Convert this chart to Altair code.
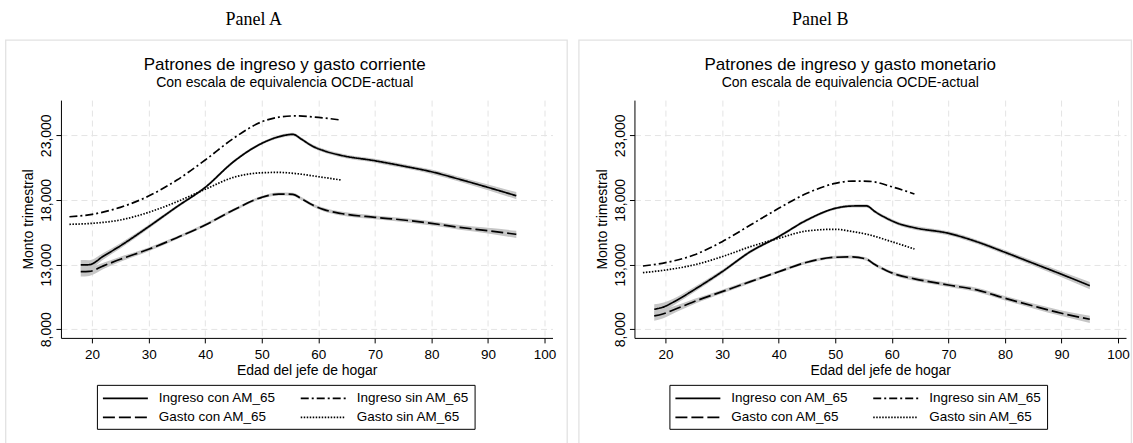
import altair as alt
import pandas as pd

SANS = "Liberation Sans"
SERIF = "Liberation Serif"

# legend fills column by column: first column holds the "con" series
SERIES = ["Ingreso con AM_65", "Gasto con AM_65", "Ingreso sin AM_65", "Gasto sin AM_65"]
DASHES = [[1, 0], [12, 4], [8, 3, 2, 3], [1.5, 1.5]]

X_TICKS = [20, 30, 40, 50, 60, 70, 80, 90, 100]
Y_TICKS = [8000, 13000, 18000, 23000]
X_DOMAIN = [14.5, 101.4]
Y_DOMAIN = [7330, 25720]

ages_con = [18, 19.5, 22, 25, 30, 35, 40, 45, 50, 53, 55.5, 57, 59, 61, 64, 70, 75, 80, 85, 90, 95]
ages_sin = [16, 20, 25, 30, 35, 40, 45, 50, 53, 56, 60, 64]

# Panel A: gasto corriente
a_ingreso_con = [12970, 12990, 13650, 14450, 15930, 17475, 18970, 20950, 22374, 22884, 23070,
                 22700, 22150, 21800, 21450, 21030, 20620, 20180, 19590, 18970, 18325]
a_gasto_con = [12450, 12470, 12900, 13410, 14180, 15080, 16060, 17220, 18200, 18455, 18430,
               18100, 17600, 17250, 16950, 16655, 16450, 16190, 15880, 15620, 15340]
a_ingreso_sin = [16700, 16888, 17428, 18300, 19538, 21084, 22760, 24044, 24400, 24500, 24380, 24175]
a_gasto_sin = [16115, 16190, 16450, 17040, 17860, 18820, 19745, 20100, 20130, 20040, 19800, 19540]

# Panel B: gasto monetario
b_ingreso_con = [9545, 9700, 10250, 11040, 12450, 14000, 15160, 16450, 17350, 17530, 17540,
                 17100, 16600, 16200, 15850, 15420, 14770, 13950, 13100, 12250, 11370]
b_gasto_con = [9030, 9180, 9600, 10130, 10905, 11680, 12450, 13180, 13565, 13590, 13420,
               13000, 12550, 12200, 11900, 11420, 11040, 10395, 9800, 9235, 8770]
b_ingreso_sin = [12890, 13150, 13740, 14770, 16060, 17350, 18510, 19280, 19460, 19440, 19020, 18455]
b_gasto_sin = [12375, 12580, 12970, 13610, 14385, 15030, 15600, 15730, 15560, 15300, 14770, 14205]

# half-width of the confidence band around the "con AM_65" curves
band_half = [380, 350, 250, 200, 150, 120, 110, 110, 110, 120, 130,
             130, 130, 140, 150, 150, 160, 170, 190, 220, 280]

panel_labels = ["Panel A", "Panel B"]
titles = ["Patrones de ingreso y gasto corriente", "Patrones de ingreso y gasto monetario"]
subtitle = "Con escala de equivalencia OCDE-actual"
x_title = "Edad del jefe de hogar"
y_title = "Monto trimestral"


def make_panel(label, title, ing_con, gas_con, ing_sin, gas_sin, bounds, box, label_x, title_x, legend_x):
    rows = []
    for s, ages, vals in [("Ingreso con AM_65", ages_con, ing_con), ("Ingreso sin AM_65", ages_sin, ing_sin),
                          ("Gasto con AM_65", ages_con, gas_con), ("Gasto sin AM_65", ages_sin, gas_sin)]:
        for a, v in zip(ages, vals):
            rows.append({"edad": a, "monto": v, "serie": s})
    lines_df = pd.DataFrame(rows)

    brows = []
    for s, vals in [("Ingreso con AM_65", ing_con), ("Gasto con AM_65", gas_con)]:
        for a, v, h in zip(ages_con, vals, band_half):
            brows.append({"edad": a, "lo": v - h, "hi": v + h, "serie": s})
    band_df = pd.DataFrame(brows)

    one = pd.DataFrame({"k": [0]})
    xs = alt.Scale(domain=X_DOMAIN, nice=False, zero=False)
    ys = alt.Scale(domain=Y_DOMAIN, nice=False, zero=False)
    xaxis = alt.Axis(values=X_TICKS, title=x_title, grid=True, gridDash=[6, 4], gridColor="#e4e4e4",
                     domainColor="black", tickColor="black", tickSize=5, labelFontSize=13.5,
                     labelColor="black", labelFont=SANS, labelPadding=5, titleFont=SANS,
                     titleFontSize=14, titleFontWeight="normal", titleColor="black", titlePadding=2)
    yaxis = alt.Axis(values=Y_TICKS, title=y_title, format=",d", grid=True, gridDash=[6, 4],
                     gridColor="#e4e4e4", domainColor="black", tickColor="black", tickSize=5,
                     labelFontSize=14, labelColor="black", labelFont=SANS, labelAngle=270,
                     labelAlign="center", labelBaseline="bottom", labelPadding=2, titleFont=SANS,
                     titleFontSize=14, titleFontWeight="normal", titleColor="black", titlePadding=4)

    bound_rect = alt.Chart(one).mark_rect(opacity=0).encode(
        x=alt.value(bounds[0]), x2=alt.value(bounds[1]), y=alt.value(-100), y2=alt.value(343))
    box_rect = alt.Chart(one).mark_rect(fillOpacity=0, stroke="#e2e2e2", strokeWidth=1.3).encode(
        x=alt.value(box[0]), x2=alt.value(box[1]), y=alt.value(-60), y2=alt.value(346))

    bands = alt.Chart(band_df).mark_area(color="#c6c6c6", interpolate="monotone").encode(
        x=alt.X("edad:Q", scale=xs, axis=xaxis),
        y=alt.Y("lo:Q", scale=ys, axis=yaxis),
        y2="hi:Q",
        detail="serie:N")

    lines = alt.Chart(lines_df).mark_line(color="black", strokeWidth=1.7, interpolate="monotone").encode(
        x=alt.X("edad:Q", scale=xs, axis=xaxis),
        y=alt.Y("monto:Q", scale=ys, axis=yaxis),
        strokeDash=alt.StrokeDash(
            "serie:N",
            scale=alt.Scale(domain=SERIES, range=DASHES),
            sort=SERIES,
            legend=alt.Legend(title=None, orient="none", legendX=legend_x, legendY=285,
                              columns=2, symbolType="M-1,0H5", symbolSize=225,
                              symbolStrokeWidth=1.6, symbolStrokeColor="black",
                              symbolFillColor="transparent",
                              labelFont=SANS, labelFontSize=13.5, labelColor="black",
                              labelOffset=40, columnPadding=20, rowPadding=4,
                              strokeColor="black", padding=5, cornerRadius=0)))

    t_label = alt.Chart(one).mark_text(font=SERIF, fontSize=18, color="black", align="center",
                                       baseline="middle").encode(
        x=alt.value(label_x), y=alt.value(-80), text=alt.value(label))
    t_title = alt.Chart(one).mark_text(font=SANS, fontSize=17, color="black", align="center",
                                       baseline="middle").encode(
        x=alt.value(title_x), y=alt.value(-35), text=alt.value(title))
    t_sub = alt.Chart(one).mark_text(font=SANS, fontSize=14, color="black", align="center",
                                     baseline="middle").encode(
        x=alt.value(title_x), y=alt.value(-17), text=alt.value(subtitle))

    return alt.layer(bound_rect, box_rect, bands, lines, t_label, t_title, t_sub).properties(
        width=492, height=238)


panel_a = make_panel(panel_labels[0], titles[0], a_ingreso_con, a_gasto_con, a_ingreso_sin, a_gasto_sin,
                     bounds=(-61, 512), box=(-55.3, 506.7), label_x=193, title_x=224, legend_x=36)
panel_b = make_panel(panel_labels[1], titles[1], b_ingreso_con, b_gasto_con, b_ingreso_sin, b_gasto_sin,
                     bounds=(-61.3, 498.7), box=(-55.6, 497.4), label_x=186, title_x=216, legend_x=35)

chart = alt.hconcat(panel_a, panel_b, spacing=0).resolve_scale(
    strokeDash="independent").resolve_legend(strokeDash="independent").properties(
    padding=0).configure(font=SANS).configure_view(strokeWidth=0)

chart.save("out.html", embed_options={"renderer": "svg", "actions": False})
